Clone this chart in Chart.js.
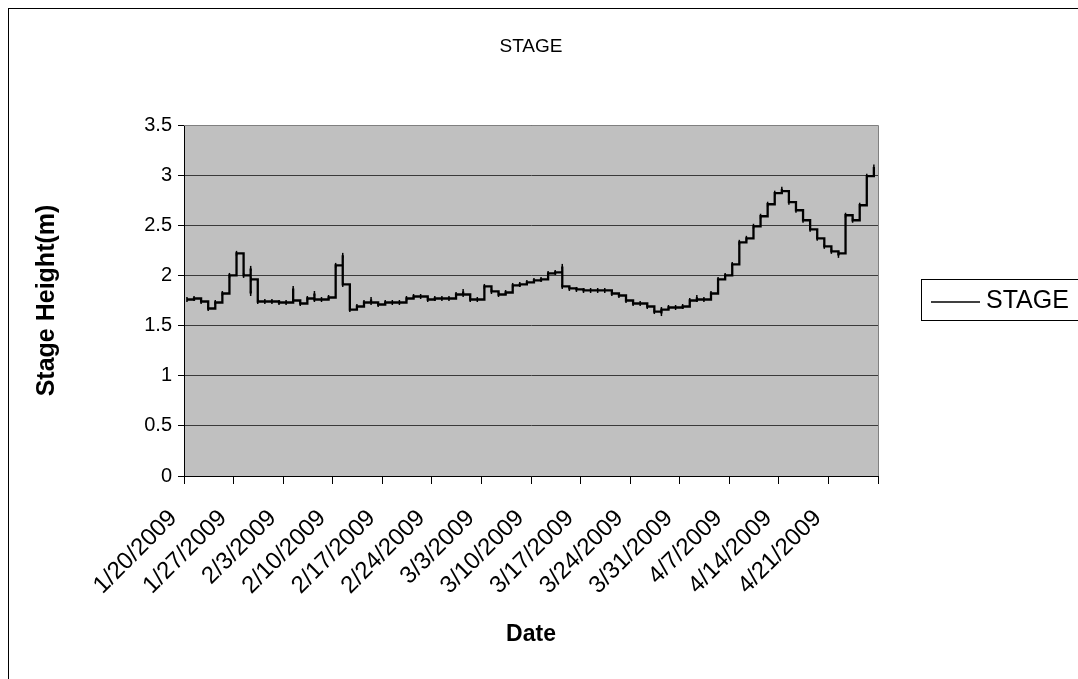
<!DOCTYPE html>
<html>
<head>
<meta charset="utf-8">
<script src="https://cdn.jsdelivr.net/npm/chart.js@4.4.1/dist/chart.umd.min.js"></script>
<style>
  html, body { margin: 0; padding: 0; background: #ffffff; }
  #wrap { width: 1078px; height: 679px; }
</style>
</head>
<body>
<div id="wrap"><canvas id="c" width="1078" height="679"></canvas></div>
<script>
// Gauge record: one stage reading per day, starting 1/20/2009
const seriesName = 'STAGE';
const chartTitle = 'STAGE';
const xTitle = 'Date';
const yTitle = 'Stage Height(m)';
const firstDay = { year: 2009, month: 1, day: 20 };
const readingHour = 10;          // daily reading time (hour of day)
const tickStepDays = 7;          // one axis label per week
const axisSpanDays = 98;         // 1/20/2009 .. 4/28/2009
const yMin = 0, yMax = 3.5, yStep = 0.5;

// stage height (m) held from each day's reading until the next one
const dailyStage = [
  1.76, 1.77, 1.74, 1.67, 1.73, 1.82, 2.00, 2.22, 2.00, 1.96,
  1.74, 1.74, 1.74, 1.73, 1.73, 1.75, 1.72, 1.77, 1.76, 1.76,
  1.78, 2.10, 1.91, 1.66, 1.69, 1.73, 1.73, 1.71, 1.73, 1.73,
  1.73, 1.77, 1.79, 1.79, 1.76, 1.77, 1.77, 1.77, 1.81, 1.81,
  1.76, 1.76, 1.89, 1.84, 1.81, 1.83, 1.90, 1.91, 1.93, 1.95,
  1.96, 2.02, 2.03, 1.89, 1.87, 1.86, 1.85, 1.85, 1.85, 1.85,
  1.82, 1.80, 1.75, 1.72, 1.72, 1.69, 1.64, 1.66, 1.68, 1.68,
  1.69, 1.75, 1.76, 1.76, 1.82, 1.96, 2.00, 2.11, 2.33, 2.37,
  2.49, 2.59, 2.71, 2.82, 2.84, 2.73, 2.65, 2.55, 2.46, 2.37,
  2.29, 2.24, 2.22, 2.60, 2.55, 2.70, 2.99, 3.05
];

// short-lived readings logged at the same time as a day's reading (m)
const transientReadings = {
  9: [2.07, 1.82],
  15: [1.87],
  18: [1.82],
  22: [2.20],
  26: [1.76],
  39: [1.84],
  53: [2.09],
  67: [1.62],
  72: [1.78],
  84: [2.86],
  92: [2.20],
  97: [3.08]
};

const stagePoints = [];
dailyStage.forEach((value, d) => {
  const t = d + readingHour / 24;
  (transientReadings[d] || []).forEach(v => stagePoints.push({ x: t, y: v }));
  stagePoints.push({ x: t, y: value });
});

function dayLabel(offset) {
  const dt = new Date(Date.UTC(firstDay.year, firstDay.month - 1, firstDay.day + offset));
  return (dt.getUTCMonth() + 1) + '/' + dt.getUTCDate() + '/' + dt.getUTCFullYear();
}

const FONT = '"Liberation Sans", Arial, Helvetica, sans-serif';

// plot background, frame, title, slanted date labels and legend box
const decor = {
  id: 'decor',
  beforeDraw(chart) {
    const { ctx, chartArea: a } = chart;
    ctx.save();
    ctx.fillStyle = '#ffffff';
    ctx.fillRect(0, 0, chart.width, chart.height);
    ctx.strokeStyle = '#000000';
    ctx.lineWidth = 1;
    ctx.strokeRect(8.5, 8.5, chart.width + 20, chart.height + 20);
    ctx.fillStyle = '#c0c0c0';
    ctx.fillRect(a.left, a.top, a.right - a.left, a.bottom - a.top);
    ctx.restore();
  },
  beforeDatasetsDraw(chart) {
    const { ctx, chartArea: a } = chart;
    ctx.save();
    ctx.strokeStyle = '#808080';
    ctx.lineWidth = 1;
    ctx.beginPath();
    ctx.moveTo(a.left, a.top + 0.5);
    ctx.lineTo(a.right + 0.5, a.top + 0.5);
    ctx.lineTo(a.right + 0.5, a.bottom);
    ctx.stroke();
    ctx.restore();
  },
  afterDraw(chart) {
    const { ctx, chartArea: a } = chart;
    const xs = chart.scales.x;
    ctx.save();
    ctx.fillStyle = '#000000';
    ctx.font = '19px ' + FONT;
    ctx.textAlign = 'center';
    ctx.textBaseline = 'middle';
    ctx.fillText(chartTitle, (a.left + a.right) / 2, 47);

    // week labels, slanted 45 degrees and ending just left of their tick
    ctx.font = '24px ' + FONT;
    ctx.textAlign = 'right';
    ctx.textBaseline = 'alphabetic';
    xs.ticks.forEach(t => {
      if (t.value >= axisSpanDays) return;
      const px = xs.getPixelForValue(t.value);
      ctx.save();
      ctx.translate(px - 6, a.bottom + 43);
      ctx.rotate(-Math.PI / 4);
      ctx.fillText(dayLabel(t.value), 0, 0);
      ctx.restore();
    });

    // legend
    ctx.strokeStyle = '#000000';
    ctx.lineWidth = 1;
    ctx.strokeRect(921.5, 279.5, 200, 41);
    ctx.lineWidth = 1.5;
    ctx.beginPath();
    ctx.moveTo(931, 302);
    ctx.lineTo(980, 302);
    ctx.stroke();
    ctx.font = '25px ' + FONT;
    ctx.textAlign = 'left';
    ctx.textBaseline = 'middle';
    ctx.fillText(seriesName, 986, 301);
    ctx.restore();
  }
};

new Chart(document.getElementById('c'), {
  type: 'line',
  data: {
    datasets: [{
      label: seriesName,
      data: stagePoints,
      borderColor: '#000000',
      borderWidth: 2.3,
      pointStyle: 'line',
      rotation: 90,
      pointRadius: 2.5,
      pointBorderWidth: 1.5,
      pointBorderColor: '#000000',
      pointBackgroundColor: '#000000',
      stepped: 'before',
      fill: false,
      tension: 0
    }]
  },
  options: {
    responsive: false,
    animation: false,
    devicePixelRatio: 1,
    layout: { padding: { left: 9, top: 125, right: 200, bottom: 0 } },
    plugins: {
      legend: { display: false },
      title: { display: false },
      tooltip: { enabled: false }
    },
    scales: {
      x: {
        type: 'linear',
        min: 0,
        max: axisSpanDays,
        afterFit(s) { s.height = 203; },
        afterBuildTicks(s) {
          const t = [];
          for (let v = 0; v <= axisSpanDays; v += tickStepDays) t.push({ value: v });
          s.ticks = t;
        },
        ticks: {
          display: false,
          autoSkip: false
        },
        grid: {
          drawOnChartArea: false,
          drawTicks: true,
          tickLength: 8,
          tickColor: '#000000',
          lineWidth: 1
        },
        border: { color: '#000000', width: 1 },
        title: {
          display: true,
          text: xTitle,
          color: '#000000',
          font: { family: FONT, size: 23, weight: 'bold' },
          padding: { top: 0, bottom: 31 }
        }
      },
      y: {
        min: yMin,
        max: yMax,
        afterFit(s) { s.width = 175; },
        ticks: {
          stepSize: yStep,
          padding: 6,
          color: '#000000',
          font: { family: FONT, size: 20 },
          callback: (v) => String(Math.round(v * 10) / 10)
        },
        grid: {
          color: '#3a3a3a',
          lineWidth: 1,
          drawTicks: true,
          tickLength: 6,
          tickColor: '#000000'
        },
        border: { color: '#000000', width: 1 },
        title: {
          display: true,
          text: yTitle,
          color: '#000000',
          font: { family: FONT, size: 25, weight: 'bold' },
          padding: { top: 23, bottom: 0 }
        }
      }
    }
  },
  plugins: [decor]
});
</script>
</body>
</html>
